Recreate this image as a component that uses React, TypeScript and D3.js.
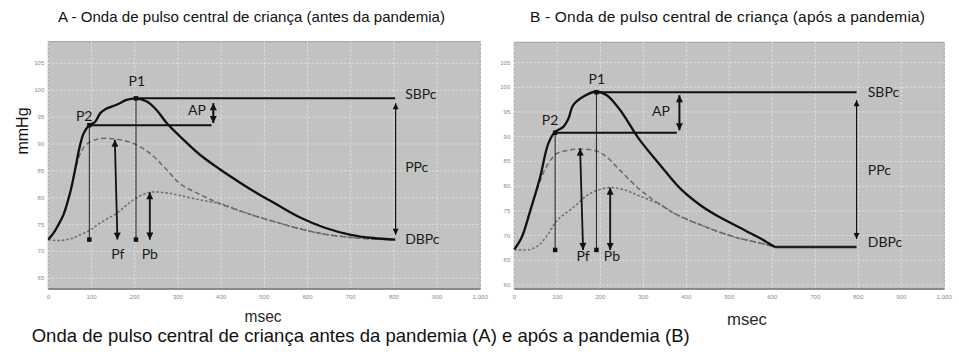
import React from "react";
import * as d3 from "d3";

type Pt = [number, number];

// ---------- data ----------
const msTicks = [0, 100, 200, 300, 400, 500, 600, 700, 800, 900, 1000];
const msTickLabels = ["0", "100", "200", "300", "400", "500", "600", "700", "800", "900", "1.000"];
const mmHgTicksA = [65, 70, 75, 80, 85, 90, 95, 100, 105];
const mmHgTicksB = [60, 65, 70, 75, 80, 85, 90, 95, 100, 105];

// Panel A (antes da pandemia): [msec, mmHg]
const solidA: Pt[] = [
  [0, 72.2], [12, 73.4], [23, 74.9], [35, 76.8], [46, 79.6], [54, 82.1], [62, 85.2], [73, 89.6],
  [82, 92], [95, 93.5], [108, 94.1], [120, 95.7], [135, 96.6], [158, 97.3], [181, 98.2], [203, 98.5],
  [228, 97.9], [251, 96.3], [274, 93.9], [305, 91.4], [351, 88], [397, 85.3], [444, 82.8],
  [490, 80.5], [521, 79.1], [583, 76.3], [640, 74.4], [700, 73.1], [752, 72.5], [803, 72.2],
];
const forwardA: Pt[] = [
  [0, 72.2], [12, 73.4], [23, 74.9], [35, 76.8], [46, 79.6], [54, 82.1], [62, 85], [72, 87.8],
  [84, 89.6], [97, 90.4], [120, 91], [158, 90.9], [197, 90.1], [235, 88.3], [274, 85.2], [305, 82.6],
  [351, 80.6], [397, 78.9], [467, 76.9], [521, 75.6], [583, 74.2], [640, 73.2], [700, 72.6],
  [752, 72.3], [803, 72.2],
];
const backwardA: Pt[] = [
  [0, 72.2], [23, 72], [50, 72.3], [66, 72.8], [97, 74], [120, 75.3], [158, 77.1], [197, 79.6],
  [235, 81], [274, 80.9], [305, 80.4], [351, 79.6], [397, 78.9], [467, 76.9], [521, 75.6],
  [583, 74.2], [640, 73.2], [700, 72.6], [752, 72.3], [803, 72.2],
];

// Panel B (após a pandemia)
const solidB: Pt[] = [
  [0, 67.2], [17, 69.6], [37, 75], [60, 81.8], [79, 88.6], [95, 91], [114, 92], [126, 93.7],
  [137, 96.4], [160, 98.1], [190, 99.1], [215, 98.4], [246, 95.4], [292, 89.3], [339, 84.3],
  [385, 79.6], [432, 76.2], [478, 73.7], [509, 72.3], [540, 70.9], [571, 69.5], [606, 67.7],
];
const forwardB: Pt[] = [
  [0, 67.2], [17, 69.6], [37, 75], [52, 79], [75, 84], [99, 86.6], [122, 87.2], [153, 87.5],
  [191, 87.1], [215, 85.9], [246, 83.2], [292, 79.3], [339, 76.3], [370, 74.6], [401, 73.3],
  [447, 71.7], [477, 70.7], [509, 69.8], [540, 69.1], [571, 68.5], [606, 67.7],
];
const backwardB: Pt[] = [
  [0, 67.2], [37, 67.2], [60, 68.3], [80, 70.5], [99, 73], [137, 75.7], [176, 78.5], [219, 79.7],
  [254, 79.3], [292, 78], [339, 76.3], [370, 74.6], [401, 73.3], [447, 71.7], [477, 70.7],
  [509, 69.8], [540, 69.1], [571, 68.5], [606, 67.7],
];
const flatB: Pt[] = [[606, 67.7], [796, 67.7]];

// key points / annotation anchors (msec, mmHg)
const annA = {
  p1: [203, 98.5] as Pt, p2: [95, 93.5] as Pt, foot: 72.2, p2End: 378, sbpEnd: 803,
  ap: [382, 97.6, 93.9], ppc: [804, 97.6, 73.1], pf: [154, 90.8, 160, 72.2], pb: [235, 81, 72.2],
};
const annB = {
  p1: [191, 99] as Pt, p2: [95, 90.8] as Pt, foot: 67.1, p2End: 378, sbpEnd: 796,
  ap: [384, 98.4, 91.3], ppc: [796, 97.4, 69.3], pf: [153, 87.6, 160, 67.1], pb: [223, 79.7, 67.1],
};
const labelsA = [
  { t: "P1", ms: 205, v: 101.5, a: "middle" }, { t: "P2", ms: 83, v: 95, a: "middle" },
  { t: "Pf", ms: 161, v: 69.3, a: "middle" }, { t: "Pb", ms: 235, v: 69.3, a: "middle" },
  { t: "AP", ms: 344, v: 96, a: "middle" }, { t: "SBPc", ms: 826, v: 99.1, a: "start" },
  { t: "PPc", ms: 826, v: 85.5, a: "start" }, { t: "DBPc", ms: 826, v: 72.1, a: "start" },
];
const labelsB = [
  { t: "P1", ms: 192, v: 101.3, a: "middle" }, { t: "P2", ms: 83, v: 93, a: "middle" },
  { t: "Pf", ms: 160, v: 65.5, a: "middle" }, { t: "Pb", ms: 227, v: 65.5, a: "middle" },
  { t: "AP", ms: 341, v: 95, a: "middle" }, { t: "SBPc", ms: 822, v: 98.8, a: "start" },
  { t: "PPc", ms: 822, v: 82.9, a: "start" }, { t: "DBPc", ms: 822, v: 68.5, a: "start" },
];

const titleA = "A - Onda de pulso central de criança (antes da pandemia)";
const titleB = "B - Onda de pulso central de criança (após a pandemia)";
const caption = "Onda de pulso central de criança antes da pandemia (A) e após a pandemia (B)";

// ---------- drawing ----------
const sans = "'Liberation Sans', Arial, sans-serif";
const labelFont = "Lato, 'Open Sans', sans-serif";

function Panel(props: any) {
  const { x0, x1, yTop, yBot, yDomain, yTicks, solid, forward, backward, flat, ann, labels } = props;
  const x = d3.scaleLinear().domain([0, 1000]).range([x0, x1]);
  const y = d3.scaleLinear().domain(yDomain).range([yBot, yTop]);
  const line = d3.line<Pt>().x((d) => x(d[0])).y((d) => y(d[1])).curve(d3.curveCatmullRom.alpha(0.5));
  const sq = 4.5;
  return (
    <g>
      <rect x={x0} y={yTop} width={x1 - x0} height={yBot - yTop} fill="#c2c2c2" stroke="#9a9a9a" strokeWidth={1} />
      {msTicks.map((t) => (
        <line key={"gx" + t} x1={x(t)} x2={x(t)} y1={yTop} y2={yBot} stroke="#e4e4e4" strokeWidth={0.9} strokeDasharray="2,2" />
      ))}
      {yTicks.map((t: number) => (
        <line key={"gy" + t} x1={x0} x2={x1} y1={y(t)} y2={y(t)} stroke="#e4e4e4" strokeWidth={0.9} strokeDasharray="2,2" />
      ))}
      <line x1={x0} x2={x1} y1={yBot} y2={yBot} stroke="#7a7a7a" strokeWidth={1.5} />
      {msTicks.map((t, i) => (
        <text key={"tx" + t} x={x(t)} y={yBot + 10} fontSize={6} fill="#8a8a8a" textAnchor="middle" fontFamily={sans}>
          {msTickLabels[i]}
        </text>
      ))}
      {yTicks.map((t: number) => (
        <text key={"ty" + t} x={x0 - 4} y={y(t) + 2} fontSize={6} fill="#8a8a8a" textAnchor="end" fontFamily={sans}>
          {t}
        </text>
      ))}
      {/* waves */}
      <path d={line(backward) || ""} fill="none" stroke="#707070" strokeWidth={1.6} strokeDasharray="2.5,2" />
      <path d={line(forward) || ""} fill="none" stroke="#6a6a6a" strokeWidth={1.5} strokeDasharray="5,3" />
      <path d={line(solid) || ""} fill="none" stroke="#111" strokeWidth={2.3} />
      {flat && <path d={line(flat) || ""} fill="none" stroke="#222" strokeWidth={2.3} />}
      {/* horizontal reference lines */}
      <line x1={x(ann.p1[0])} x2={x(ann.sbpEnd)} y1={y(ann.p1[1])} y2={y(ann.p1[1])} stroke="#111" strokeWidth={2} />
      <line x1={x(ann.p2[0])} x2={x(ann.p2End)} y1={y(ann.p2[1])} y2={y(ann.p2[1])} stroke="#111" strokeWidth={2} />
      {/* verticals from P1 / P2 */}
      {[ann.p1, ann.p2].map((p: Pt, i: number) => (
        <g key={"v" + i}>
          <line x1={x(p[0])} x2={x(p[0])} y1={y(p[1])} y2={y(ann.foot)} stroke="#222" strokeWidth={1} />
          <rect x={x(p[0]) - sq / 2} y={y(ann.foot) - sq / 2} width={sq} height={sq} fill="#111" />
          <rect x={x(p[0]) - sq / 2} y={y(p[1]) - sq / 2} width={sq} height={sq} fill="#111" />
        </g>
      ))}
      {/* arrows */}
      <line x1={x(ann.ap[0])} x2={x(ann.ap[0])} y1={y(ann.ap[1])} y2={y(ann.ap[2])} stroke="#111" strokeWidth={2}
        markerStart="url(#ahThick)" markerEnd="url(#ahThick)" />
      <line x1={x(ann.pf[0])} x2={x(ann.pf[2])} y1={y(ann.pf[1])} y2={y(ann.pf[3])} stroke="#111" strokeWidth={1.8}
        markerStart="url(#ahThick)" markerEnd="url(#ahThick)" />
      <line x1={x(ann.pb[0])} x2={x(ann.pb[0])} y1={y(ann.pb[1])} y2={y(ann.pb[2])} stroke="#111" strokeWidth={1.8}
        markerStart="url(#ahThick)" markerEnd="url(#ahThick)" />
      <line x1={x(ann.ppc[0])} x2={x(ann.ppc[0])} y1={y(ann.ppc[1])} y2={y(ann.ppc[2])} stroke="#111" strokeWidth={1.2}
        markerStart="url(#ahThin)" markerEnd="url(#ahThin)" />
      {labels.map((l: any) => (
        <text key={l.t} x={x(l.ms)} y={y(l.v)} fontSize={14} fill="#1a1a1a" textAnchor={l.a}
          dominantBaseline="middle" fontFamily={labelFont}>
          {l.t}
        </text>
      ))}
    </g>
  );
}

export default function App() {
  return (
    <svg width={959} height={356} viewBox="0 0 959 356"
      style={{ position: "absolute", left: 0, top: 0, display: "block", background: "#fff" }}>
      <defs>
        <marker id="ahThick" viewBox="0 0 8 8" refX={8} refY={4} markerWidth={8} markerHeight={7}
          markerUnits="userSpaceOnUse" orient="auto-start-reverse">
          <path d="M0,0 L8,4 L0,8 z" fill="#111" />
        </marker>
        <marker id="ahThin" viewBox="0 0 8 8" refX={8} refY={4} markerWidth={7} markerHeight={6}
          markerUnits="userSpaceOnUse" orient="auto-start-reverse">
          <path d="M0,0 L8,4 L0,8 z" fill="#111" />
        </marker>
      </defs>
      <rect x={0} y={0} width={959} height={356} fill="#fff" />
      <text x={58} y={22} fontSize={15} fill="#111" fontFamily={sans} textLength={387} lengthAdjust="spacing">{titleA}</text>
      <text x={530} y={22} fontSize={15.5} fill="#111" fontFamily={sans} textLength={395} lengthAdjust="spacing">{titleB}</text>
      <text transform="translate(24,131) rotate(-90)" fontSize={16} fill="#111" fontFamily={sans}
        textAnchor="middle" dominantBaseline="middle">mmHg</text>
      <Panel x0={48.3} x1={480.3} yTop={41.7} yBot={289} yDomain={[63, 109.05]} yTicks={mmHgTicksA}
        solid={solidA} forward={forwardA} backward={backwardA} ann={annA} labels={labelsA} />
      <Panel x0={514.3} x1={944.3} yTop={42.3} yBot={289} yDomain={[59.2, 109.1]} yTicks={mmHgTicksB}
        solid={solidB} forward={forwardB} backward={backwardB} flat={flatB} ann={annB} labels={labelsB} />
      <text x={263} y={321.5} fontSize={17} fill="#2a2a2a" fontFamily={sans} textAnchor="middle"
        textLength={37} lengthAdjust="spacingAndGlyphs">msec</text>
      <text x={747} y={324.5} fontSize={17} fill="#2a2a2a" fontFamily={sans} textAnchor="middle"
        textLength={40} lengthAdjust="spacingAndGlyphs">msec</text>
      <text x={31.7} y={341.5} fontSize={18.5} fill="#111" fontFamily={sans} textLength={658} lengthAdjust="spacing">{caption}</text>
    </svg>
  );
}
